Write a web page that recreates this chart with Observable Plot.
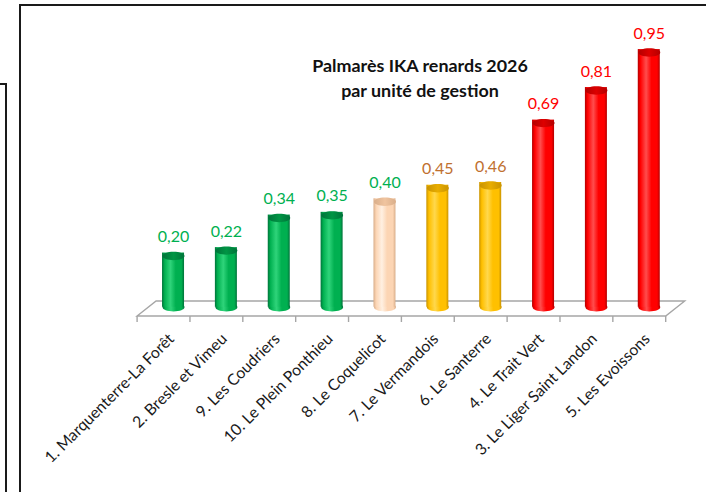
<!DOCTYPE html>
<html>
<head>
<meta charset="utf-8">
<script src="https://cdn.jsdelivr.net/npm/d3@7"></script>
<script src="https://cdn.jsdelivr.net/npm/@observablehq/plot@0.6"></script>
<style>
  html, body { margin: 0; padding: 0; background: #fff; }
  #wrap { position: relative; width: 706px; height: 492px; overflow: hidden; font-family: Lato, "Noto Sans", sans-serif; }
  #chart { position: absolute; left: 0; top: 0; }
  .frameA { position: absolute; left: -4px; top: 83px; width: 9px; height: 420px; border-top: 2px solid #1a1a1a; border-right: 2px solid #1a1a1a; }
  .frameB { position: absolute; left: 19px; top: 4px; width: 700px; height: 500px; border-top: 2px solid #1a1a1a; border-left: 2px solid #1a1a1a; }
  #title { position: absolute; left: 240px; width: 360px; top: 52.5px; text-align: center; font-weight: 700; font-size: 17.9px; line-height: 25px; color: #111; }
</style>
</head>
<body>
<div id="wrap">
  <div class="frameA"></div>
  <div class="frameB"></div>
  <div id="chart"></div>
  <div id="title">Palmarès IKA renards 2026<br>par unité de gestion</div>
</div>
<script>
// ---- data ----
const names = ["1. Marquenterre-La Forêt", "2. Bresle et Vimeu", "9. Les Coudriers", "10. Le Plein Ponthieu", "8. Le Coquelicot", "7. Le Vermandois", "6. Le Santerre", "4. Le Trait Vert", "3. Le Liger Saint Landon", "5. Les Evoissons"];
const values = [0.20, 0.22, 0.34, 0.35, 0.40, 0.45, 0.46, 0.69, 0.81, 0.95];
const classes = ["vert", "vert", "vert", "vert", "beige", "jaune", "jaune", "rouge", "rouge", "rouge"];

// ---- palette ----
const palette = {
  vert:  {dark: "#00733a", base: "#00b050", light: "#2fd47a", top: "#009544", label: "#00b050"},
  beige: {dark: "#d9ae8a", base: "#fcd5b4", light: "#fff0e2", top: "#f0c49f", label: "#00b050"},
  jaune: {dark: "#c99300", base: "#ffc000", light: "#ffd84d", top: "#e8ad00", label: "#c0702f"},
  rouge: {dark: "#b30000", base: "#ff0000", light: "#ff4d4d", top: "#dd0000", label: "#ff0000"}
};

const data = names.map((name, i) => ({name, value: values[i], cls: classes[i]}));
const fmt = v => d3.format(".2f")(v).replace(".", ",");

// gradient defs (document-wide ids)
const ns = "http://www.w3.org/2000/svg";
const defsSvg = document.createElementNS(ns, "svg");
defsSvg.setAttribute("width", 0); defsSvg.setAttribute("height", 0);
defsSvg.style.position = "absolute";
const defs = document.createElementNS(ns, "defs");
for (const [k, c] of Object.entries(palette)) {
  const g = document.createElementNS(ns, "linearGradient");
  g.setAttribute("id", "body-" + k);
  g.setAttribute("x1", "0"); g.setAttribute("x2", "1"); g.setAttribute("y1", "0"); g.setAttribute("y2", "0");
  [[0, c.dark], [0.12, c.base], [0.38, c.light], [0.62, c.base], [0.88, c.base], [1, c.dark]].forEach(([o, col]) => {
    const s = document.createElementNS(ns, "stop");
    s.setAttribute("offset", o); s.setAttribute("stop-color", col);
    g.appendChild(s);
  });
  defs.appendChild(g);
  const t = document.createElementNS(ns, "linearGradient");
  t.setAttribute("id", "top-" + k);
  t.setAttribute("x1", "0"); t.setAttribute("x2", "1"); t.setAttribute("y1", "0"); t.setAttribute("y2", "0");
  [[0, c.dark], [0.5, c.top], [1, c.dark]].forEach(([o, col]) => {
    const s = document.createElementNS(ns, "stop");
    s.setAttribute("offset", o); s.setAttribute("stop-color", col);
    t.appendChild(s);
  });
  defs.appendChild(t);
}
defsSvg.appendChild(defs);
document.getElementById("wrap").appendChild(defsSvg);

// elliptical cap symbol
const ellipse = {
  draw(ctx) {
    const rx = 11, ry = 4.2, k = 0.5523;
    ctx.moveTo(-rx, 0);
    ctx.bezierCurveTo(-rx, -ry * k, -rx * k, -ry, 0, -ry);
    ctx.bezierCurveTo(rx * k, -ry, rx, -ry * k, rx, 0);
    ctx.bezierCurveTo(rx, ry * k, rx * k, ry, 0, ry);
    ctx.bezierCurveTo(-rx * k, ry, -rx, ry * k, -rx, 0);
    ctx.closePath();
  }
};

// 3D floor + boundary ticks, derived from the plot's scales/dimensions
function floor(index, scales, values, dim) {
  const x0 = dim.marginLeft, x1 = dim.width - dim.marginRight;
  const ymid = scales.y(0) - 1.3;
  const ddx = 9.5, ddy = 7.5;
  const g = d3.create("svg:g").attr("fill", "none").attr("stroke", "#a6a6a6").attr("stroke-width", 1.4);
  g.append("path").attr("fill", "#fff").attr("d",
    `M${x0 - ddx},${ymid + ddy}L${x1 - ddx},${ymid + ddy}L${x1 + ddx},${ymid - ddy}L${x0 + ddx},${ymid - ddy}Z`);
  const n = names.length, step = (x1 - x0) / n;
  for (let i = 0; i <= n; i++) {
    const xx = x0 - ddx + i * step;
    g.append("line").attr("x1", xx).attr("x2", xx).attr("y1", ymid + ddy).attr("y2", ymid + ddy + 6);
  }
  return g.node();
}

const chart = Plot.plot({
  width: 706,
  height: 492,
  marginLeft: 146.6,
  marginRight: 30.8,
  marginTop: 38.5,
  marginBottom: 182.2,
  x: {domain: names, padding: 0, round: false, axis: null},
  y: {domain: [0, 1], axis: null},
  color: {type: "identity"},
  style: {background: "transparent", fontFamily: "Lato, 'Noto Sans', sans-serif", overflow: "visible"},
  marks: [
    floor,
    Plot.dot(data, {x: "name", y: () => 0, dy: -3, symbol: ellipse, fill: d => `url(#body-${d.cls})`, stroke: "none"}),
    Plot.rectY(data, {x: "name", y: "value", insetLeft: 15.43, insetRight: 15.43, dy: -3, fill: d => `url(#body-${d.cls})`}),
    Plot.dot(data, {x: "name", y: "value", symbol: ellipse, fill: d => `url(#top-${d.cls})`, stroke: "none"}),
    Plot.text(data, {x: "name", y: "value", text: d => fmt(d.value), dy: -19, fill: d => palette[d.cls].label, fontSize: 16}),
    Plot.text(data, {x: "name", frameAnchor: "bottom", text: "name", rotate: -45, textAnchor: "end", lineAnchor: "middle", dx: -2, dy: 26, fontSize: 15.8, fill: "#1a1a1a"})
  ]
});
document.getElementById("chart").appendChild(chart);
</script>
</body>
</html>
